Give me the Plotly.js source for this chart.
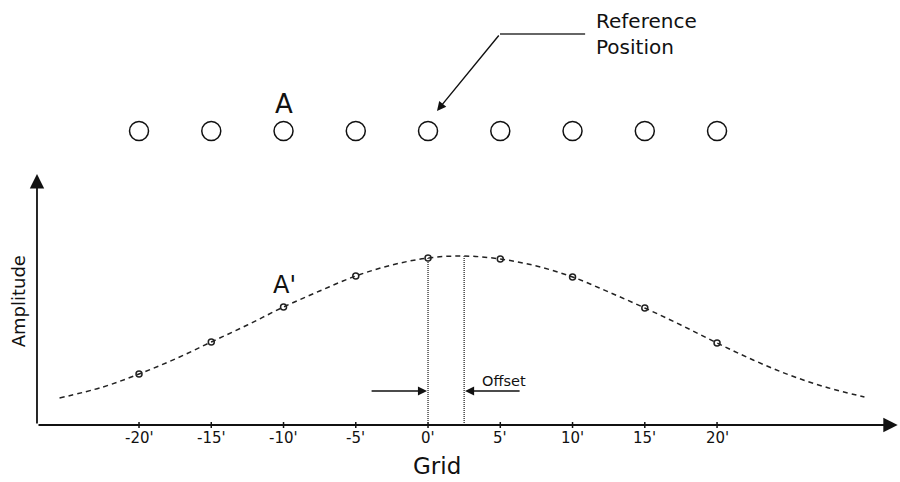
<!DOCTYPE html>
<html>
<head>
<meta charset="utf-8">
<script src="https://cdn.plot.ly/plotly-3.0.1.min.js"></script>
<style>html,body{margin:0;padding:0;background:#fff;}#chart{width:900px;height:482px;}</style>
</head>
<body>
<div id="chart"></div>
<script>
// Grid positions (arc-minutes) and their tick labels
const gridPos = [-20, -15, -10, -5, 0, 5, 10, 15, 20];
const gridLabels = ["-20'", "-15'", "-10'", "-5'", "0'", "5'", "10'", "15'", "20'"];

// Sampled amplitude at each grid position
const sampleAmp = [51, 83, 118, 149, 167, 166, 148, 117, 82];

// Underlying response curve (x, amplitude)
const curveX = [-25.5, -22.5, -20, -17.5, -15, -12.5, -10, -7.5, -5, -2.5, 0, 2.5, 5, 7.5, 10, 12.5, 15, 17.5, 20, 22.5, 25, 27.5, 30.2];
const curveY = [27, 38, 51, 66, 83, 100, 118, 134, 149, 160, 167, 169, 166, 159, 148, 133, 117, 100, 82, 65, 50, 38, 28];

// Row of reference grid points drawn above the chart
const refRowY = 294;
const peakX = 2.5;
const peakY = 169;

const ink = '#111';
const font = 'DejaVu Sans, sans-serif';

const traces = [
  {
    x: curveX, y: curveY, type: 'scatter', mode: 'lines',
    line: {color: '#222', width: 1.5, dash: '5px,4px', shape: 'spline'},
    hoverinfo: 'skip'
  },
  {
    x: gridPos, y: sampleAmp, type: 'scatter', mode: 'markers',
    marker: {symbol: 'circle-open', size: 6, color: '#222', line: {width: 1.5, color: '#222'}},
    hoverinfo: 'skip'
  },
  {
    x: gridPos, y: gridPos.map(() => refRowY), type: 'scatter', mode: 'markers',
    marker: {symbol: 'circle-open', size: 19, color: ink, line: {width: 1.5, color: ink}},
    hoverinfo: 'skip'
  }
];

const shapes = [];
// tick marks on the grid axis
gridPos.forEach(g => shapes.push({type: 'line', xref: 'x', yref: 'y', x0: g, x1: g, y0: -3, y1: 3, line: {color: ink, width: 1.5}}));
// offset markers: vertical dotted lines at the grid zero and at the curve peak
shapes.push({type: 'line', xref: 'x', yref: 'y', x0: 0, x1: 0, y0: 0, y1: sampleAmp[4], line: {color: '#444', width: 1.5, dash: '1px,1px'}});
shapes.push({type: 'line', xref: 'x', yref: 'y', x0: peakX, x1: peakX, y0: 0, y1: peakY, line: {color: '#444', width: 1.5, dash: '1px,1px'}});
// leader line for the "Reference Position" callout
shapes.push({type: 'line', xref: 'x', yref: 'y', x0: 4.98, x1: 10.87, y0: 391, y1: 391, line: {color: '#333', width: 1.5}});

function arrow(x0, y0, x1, y1, w, size) {
  return {x: x1, y: y1, ax: x0, ay: y0, xref: 'x', yref: 'y', axref: 'x', ayref: 'y',
          text: '', showarrow: true, arrowhead: 2, arrowsize: size, arrowwidth: w, arrowcolor: ink, standoff: 0, startstandoff: 0};
}

const annotations = [
  // axes with arrowheads
  arrow(-27.06, 0, 32.5, 0, 1.8, 1.6),
  arrow(-27.06, 0, -27.06, 251, 1.8, 1.6),
  // callout and offset arrows
  arrow(4.98, 391, 0.62, 314, 1.4, 1.3),
  arrow(-4.01, 34, -0.07, 34, 1.4, 1.3),
  arrow(6.44, 34, 2.56, 34, 1.4, 1.3),
  {x: 11.45, y: 404, xref: 'x', yref: 'y', text: 'Reference', showarrow: false, xanchor: 'left', yanchor: 'middle', font: {family: font, size: 20, color: ink}},
  {x: 11.45, y: 378, xref: 'x', yref: 'y', text: 'Position', showarrow: false, xanchor: 'left', yanchor: 'middle', font: {family: font, size: 20, color: ink}},
  {x: -9.97, y: 321, xref: 'x', yref: 'y', text: 'A', showarrow: false, font: {family: font, size: 26, color: ink}},
  {x: -9.9, y: 140, xref: 'x', yref: 'y', text: "A'", showarrow: false, font: {family: font, size: 24, color: ink}},
  {x: 5.25, y: 44, xref: 'x', yref: 'y', text: 'Offset', showarrow: false, font: {family: font, size: 14.5, color: ink}},
  {x: 0.65, y: -41, xref: 'x', yref: 'y', text: 'Grid', showarrow: false, font: {family: font, size: 23, color: ink}},
  {x: -28.35, y: 124, xref: 'x', yref: 'y', text: 'Amplitude', textangle: -90, showarrow: false, font: {family: font, size: 18, color: ink}}
];
gridPos.forEach((g, i) => annotations.push({x: g, y: -13, xref: 'x', yref: 'y', text: gridLabels[i], showarrow: false, font: {family: font, size: 15, color: ink}}));

const layout = {
  width: 900, height: 482,
  margin: {l: 0, r: 0, t: 0, b: 0},
  paper_bgcolor: '#fff', plot_bgcolor: '#fff',
  showlegend: false,
  xaxis: {range: [-29.62, 32.66], visible: false, fixedrange: true},
  yaxis: {range: [-57, 425], visible: false, fixedrange: true},
  shapes: shapes,
  annotations: annotations
};

Plotly.newPlot('chart', traces, layout, {displayModeBar: false, staticPlot: true});
</script>
</body>
</html>
